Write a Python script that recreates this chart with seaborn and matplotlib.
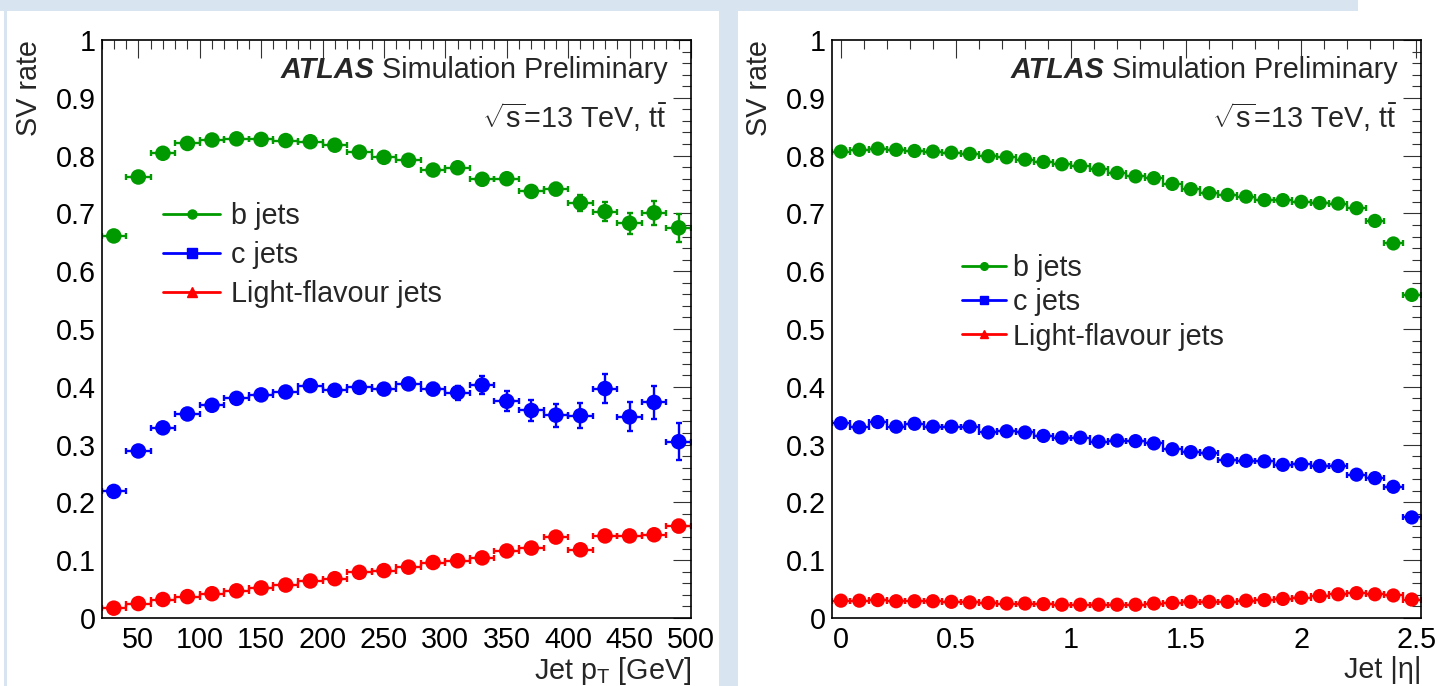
import numpy as np
import pandas as pd
import matplotlib
matplotlib.use("Agg")
import matplotlib.pyplot as plt
import seaborn as sns
from matplotlib.lines import Line2D
from matplotlib.patches import Rectangle
from matplotlib.ticker import MultipleLocator, FuncFormatter

# ---------------- data ----------------
flavours = ["b jets", "c jets", "Light-flavour jets"]

pt_centers = [30, 50, 70, 90, 110, 130, 150, 170, 190, 210, 230, 250,
              270, 290, 310, 330, 350, 370, 390, 410, 430, 450, 470, 490]
pt_halfwidth = 10

b_pt = [0.661, 0.763, 0.804, 0.821, 0.827, 0.829, 0.828, 0.826, 0.824, 0.818, 0.806, 0.797,
        0.792, 0.775, 0.779, 0.759, 0.760, 0.738, 0.742, 0.718, 0.703, 0.683, 0.701, 0.675]
b_pt_err = [0.003, 0.003, 0.003, 0.003, 0.003, 0.003, 0.003, 0.004, 0.004, 0.004, 0.005, 0.005,
            0.006, 0.007, 0.008, 0.009, 0.009, 0.010, 0.011, 0.013, 0.016, 0.018, 0.021, 0.024]
c_pt = [0.219, 0.289, 0.329, 0.353, 0.368, 0.380, 0.386, 0.391, 0.402, 0.394, 0.399, 0.396,
        0.405, 0.396, 0.390, 0.403, 0.375, 0.359, 0.351, 0.350, 0.397, 0.348, 0.373, 0.305]
c_pt_err = [0.004, 0.004, 0.004, 0.004, 0.004, 0.005, 0.005, 0.005, 0.006, 0.006, 0.007, 0.007,
            0.009, 0.010, 0.012, 0.016, 0.017, 0.019, 0.020, 0.022, 0.025, 0.025, 0.029, 0.032]
l_pt = [0.017, 0.025, 0.032, 0.037, 0.042, 0.047, 0.052, 0.057, 0.064, 0.068, 0.079, 0.082,
        0.088, 0.096, 0.099, 0.104, 0.116, 0.121, 0.140, 0.118, 0.142, 0.142, 0.144, 0.159]
l_pt_err = [0.001, 0.001, 0.001, 0.001, 0.001, 0.001, 0.001, 0.002, 0.002, 0.002, 0.002, 0.002,
            0.003, 0.003, 0.003, 0.003, 0.004, 0.004, 0.004, 0.005, 0.005, 0.006, 0.007, 0.010]

eta_centers = [0.00, 0.08, 0.16, 0.24, 0.32, 0.40, 0.48, 0.56, 0.64, 0.72, 0.80, 0.88,
               0.96, 1.04, 1.12, 1.20, 1.28, 1.36, 1.44, 1.52, 1.60, 1.68, 1.76, 1.84,
               1.92, 2.00, 2.08, 2.16, 2.24, 2.32, 2.40, 2.48]
eta_halfwidth = 0.04

b_eta = [0.807, 0.810, 0.812, 0.810, 0.808, 0.807, 0.805, 0.803, 0.799, 0.797, 0.793, 0.789,
         0.785, 0.782, 0.776, 0.770, 0.764, 0.761, 0.751, 0.742, 0.735, 0.732, 0.729, 0.723,
         0.723, 0.720, 0.718, 0.717, 0.709, 0.687, 0.648, 0.559]
c_eta = [0.337, 0.330, 0.339, 0.331, 0.336, 0.331, 0.331, 0.331, 0.321, 0.323, 0.321, 0.315,
         0.312, 0.312, 0.305, 0.307, 0.306, 0.302, 0.292, 0.287, 0.285, 0.273, 0.272, 0.271,
         0.265, 0.266, 0.263, 0.263, 0.248, 0.242, 0.227, 0.174]
l_eta = [0.030, 0.030, 0.031, 0.029, 0.029, 0.029, 0.028, 0.027, 0.026, 0.025, 0.025, 0.024,
         0.023, 0.023, 0.023, 0.023, 0.023, 0.025, 0.026, 0.028, 0.028, 0.028, 0.030, 0.031,
         0.033, 0.035, 0.038, 0.041, 0.043, 0.041, 0.039, 0.032]
b_eta_err = [0.002] * 32
c_eta_err = [0.003] * 32
l_eta_err = [0.001] * 32

y_ticks = [0, 0.1, 0.2, 0.3, 0.4, 0.5, 0.6, 0.7, 0.8, 0.9, 1]

# ---------------- style ----------------
sns.set_theme(style="white")
plt.rcParams["font.family"] = ["Liberation Sans", "DejaVu Sans"]
plt.rcParams["mathtext.fontset"] = "custom"
plt.rcParams["mathtext.rm"] = "Liberation Sans"
plt.rcParams["mathtext.it"] = "Liberation Sans:italic"
plt.rcParams["mathtext.bf"] = "Liberation Sans:bold"

colors = {"b jets": "#009a00", "c jets": "#0000ff", "Light-flavour jets": "#ff0000"}
markers = {"b jets": "o", "c jets": "s", "Light-flavour jets": "^"}
bg = "#d9e4f1"
FS = 20.7

W, H = 1436, 686
fig = plt.figure(figsize=(W / 100, H / 100), dpi=100)
fig.patch.set_facecolor("white")
for (x0, y0, w, h) in [(0, H - 11, 1358, 11), (4, 0, 3, H), (719, 0, 19, H)]:
    fig.add_artist(Rectangle((x0 / W, y0 / H), w / W, h / H, transform=fig.transFigure,
                             facecolor=bg, edgecolor="none", zorder=0))

ax1 = fig.add_axes([101.5 / W, 68 / H, 589.5 / W, 578 / H])
ax2 = fig.add_axes([831.7 / W, 68 / H, 589.3 / W, 578 / H])


def draw(ax, x, hw, ys, errs, s):
    rows = []
    for name, y, e in zip(flavours, ys, errs):
        ax.errorbar(x, y, xerr=hw, yerr=e, fmt="none", ecolor=colors[name],
                    elinewidth=1.7, capsize=2.2, capthick=1.7, zorder=2)
        rows.append(pd.DataFrame({"x": x, "y": y, "flavour": name}))
    df = pd.concat(rows, ignore_index=True)
    sns.scatterplot(data=df, x="x", y="y", hue="flavour", palette=colors, s=s,
                    marker="o", edgecolor="none", linewidth=0, legend=False, ax=ax, zorder=3)


def style(ax, xlim, xmaj, xmin):
    ax.set_xlim(*xlim)
    ax.set_ylim(0, 1)
    ax.set_yticks(y_ticks)
    ax.xaxis.set_major_locator(MultipleLocator(xmaj))
    ax.xaxis.set_minor_locator(MultipleLocator(xmin))
    ax.yaxis.set_minor_locator(MultipleLocator(0.02))
    fmt = FuncFormatter(lambda v, p: f"{v:g}")
    ax.xaxis.set_major_formatter(fmt)
    ax.yaxis.set_major_formatter(fmt)
    ax.tick_params(which="both", direction="in", top=True, right=True,
                   color="#333333", width=0.8, labelsize=FS, labelcolor="black")
    ax.tick_params(which="major", length=13)
    ax.tick_params(which="minor", length=6.5)
    ax.tick_params(axis="y", pad=4)
    ax.tick_params(axis="x", pad=6)
    for sp in ax.spines.values():
        sp.set_linewidth(1.2)
        sp.set_color("black")
    ax.set_facecolor("white")
    ax.set_ylabel("SV rate", fontsize=FS, loc="top", labelpad=0)
    ax.yaxis.set_label_coords(-0.1, 1.0)


draw(ax1, pt_centers, pt_halfwidth, [b_pt, c_pt, l_pt], [b_pt_err, c_pt_err, l_pt_err], 125)
draw(ax2, eta_centers, eta_halfwidth, [b_eta, c_eta, l_eta], [b_eta_err, c_eta_err, l_eta_err], 105)

style(ax1, (20, 500), 50, 10)
style(ax2, (-0.04, 2.52), 0.5, 0.1)

ax1.set_xlabel(r"Jet p$_{\mathrm{T}}$ [GeV]", fontsize=FS, loc="right")
ax1.xaxis.set_label_coords(1.0, -0.064)
ax2.set_xlabel("Jet |η|", fontsize=FS, loc="right")
ax2.xaxis.set_label_coords(1.0, -0.066)

for ax in (ax1, ax2):
    sim = ax.text(0.961, 0.948, "Simulation Preliminary", transform=ax.transAxes,
                  ha="right", va="center", fontsize=FS)
    ax.annotate("ATLAS ", xy=(0, 0), xycoords=sim, ha="right", va="bottom",
                fontsize=FS, fontweight="bold", fontstyle="italic")
    ax.text(0.961, 0.867, r"$\sqrt{\mathrm{s}}$=13 TeV, t$\bar{\mathrm{t}}$", transform=ax.transAxes,
            ha="right", va="center", fontsize=FS)


def handles(ms):
    return [Line2D([], [], color=colors[n], marker=markers[n], markersize=ms, lw=2)
            for n in flavours]


ax1.legend(handles=handles(6.5), labels=flavours, loc="upper left",
           bbox_to_anchor=(0.104, 0.72), frameon=False, fontsize=FS,
           handlelength=2.0, handletextpad=0.38, labelspacing=0.38,
           borderpad=0, borderaxespad=0)
ax2.legend(handles=handles(5.5), labels=flavours, loc="upper left",
           bbox_to_anchor=(0.221, 0.629), frameon=False, fontsize=FS,
           handlelength=1.55, handletextpad=0.22, labelspacing=0.21,
           borderpad=0, borderaxespad=0)

fig.savefig("out.png", dpi=100, facecolor="white")
